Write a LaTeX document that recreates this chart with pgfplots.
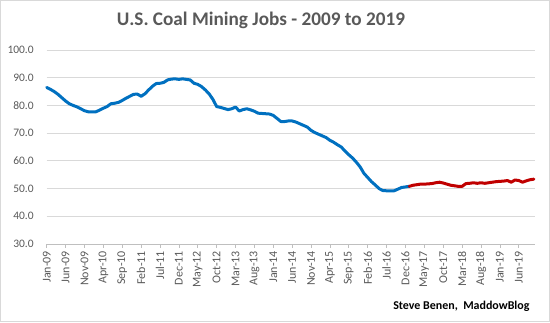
\documentclass[border=0pt]{standalone}
\usepackage{pgfplots}
\pgfplotsset{compat=1.18}
\usepackage{pgfplotstable}
\usepackage{fontspec}
\setmainfont{Carlito}
\definecolor{linblue}{HTML}{0070C0}
\definecolor{linred}{HTML}{C00000}
\definecolor{txtgray}{HTML}{595959}
\definecolor{gridgray}{HTML}{D9D9D9}
\definecolor{axisgray}{HTML}{BFBFBF}

\pgfplotstableread{
i v
0 86.5
1 85.8
2 85.0
3 84.0
4 82.8
5 81.6
6 80.6
7 80.0
8 79.5
9 78.8
10 78.1
11 77.7
12 77.7
13 77.7
14 78.3
15 79.0
16 79.6
17 80.6
18 80.8
19 81.1
20 81.8
21 82.6
22 83.3
23 84.0
24 84.1
25 83.3
26 84.2
27 85.6
28 86.9
29 87.9
30 88.0
31 88.3
32 89.2
33 89.5
34 89.6
35 89.4
36 89.6
37 89.4
38 89.2
39 88.0
40 87.6
41 86.8
42 85.6
43 84.2
44 82.2
45 79.6
46 79.3
47 78.9
48 78.5
49 78.8
50 79.4
51 78.0
52 78.5
53 78.8
54 78.4
55 77.9
56 77.2
57 77.1
58 77.0
59 76.9
60 76.4
61 75.3
62 74.2
63 74.2
64 74.4
65 74.4
66 74.0
67 73.4
68 72.8
69 72.2
70 71.0
71 70.2
72 69.6
73 69.0
74 68.4
75 67.4
76 66.7
77 65.8
78 65.0
79 63.5
80 62.2
81 61.0
82 59.5
83 57.8
84 55.5
85 54.0
86 52.5
87 51.3
88 50.0
89 49.3
90 49.2
91 49.2
92 49.2
93 49.8
94 50.4
95 50.6
96 50.8
}\bluedata

\pgfplotstableread{
i v
96 50.8
97 51.2
98 51.4
99 51.6
100 51.6
101 51.7
102 51.8
103 52.1
104 52.3
105 52.0
106 51.6
107 51.2
108 51.0
109 50.8
110 50.8
111 51.8
112 51.9
113 52.1
114 51.9
115 52.1
116 51.9
117 52.1
118 52.3
119 52.5
120 52.6
121 52.7
122 52.9
123 52.3
124 53.1
125 52.9
126 52.3
127 52.8
128 53.2
129 53.4
}\reddata

\begin{document}
\begin{tikzpicture}[x=1bp,y=1bp]
\useasboundingbox (0,0) rectangle (550,322);
\draw[gridgray, line width=1bp] (0.5,0.5) rectangle (549.5,321.5);
\begin{axis}[
  at={(46.7bp,78bp)}, anchor=south west,
  scale only axis, width=488.3bp, height=194bp,
  xmin=0, xmax=129.3, ymin=30, ymax=100,
  axis x line*=bottom, axis y line*=left,
  x axis line style={-, draw=axisgray, line width=0.75bp},
  y axis line style={draw=none},
  ytick={30,40,...,100},
  ymajorgrids, grid style={gridgray, line width=0.75bp},
  ytick style={draw=none},
  /pgf/number format/assume math mode=true,
  yticklabel={\pgfmathprintnumber[fixed,fixed zerofill,precision=1]{\tick}},
  yticklabel style={font=\fontsize{11.5}{14}\selectfont, text=txtgray, xshift=-6bp},
  xtick={0,5,...,125},
  xticklabels={Jan-09,Jun-09,Nov-09,Apr-10,Sep-10,Feb-11,Jul-11,Dec-11,May-12,Oct-12,Mar-13,Aug-13,Jan-14,Jun-14,Nov-14,Apr-15,Sep-15,Feb-16,Jul-16,Dec-16,May-17,Oct-17,Mar-18,Aug-18,Jan-19,Jun-19},
  xticklabel style={rotate=90, anchor=east, font=\fontsize{12}{14}\selectfont, text=txtgray},
  tick align=outside, major tick length=3.5bp,
  xtick style={draw=axisgray, line width=0.75bp},
  clip=false,
]
\addplot[linblue, line width=3bp, line join=round, line cap=round] table[x=i,y=v] {\bluedata};
\addplot[linred, line width=3bp, line join=round, line cap=round] table[x=i,y=v] {\reddata};
\end{axis}
\node[font=\bfseries\fontsize{19.3}{23}\selectfont, text=txtgray] at (261,302) {U.S. Coal Mining Jobs - 2009 to 2019};
\node[font=\bfseries\fontsize{12}{14}\selectfont, anchor=east] at (533,16) {Steve Benen,\ \ MaddowBlog};
\end{tikzpicture}
\end{document}
